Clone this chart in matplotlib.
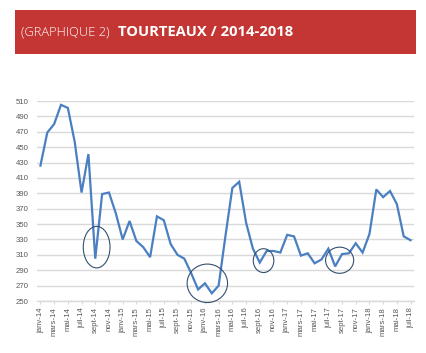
import matplotlib.pyplot as plt
from matplotlib.patches import Ellipse, Rectangle

# monthly price index, janv-14 .. juil-18
prices = [426, 469, 480, 505, 501, 457, 391, 441, 305, 389,
          391, 364, 330, 354, 328, 320, 307, 360, 355, 324,
          310, 305, 286, 265, 273, 260, 270, 335, 397, 405,
          352, 318, 300, 315, 315, 313, 336, 334, 309, 312,
          299, 304, 318, 295, 311, 312, 325, 313, 337, 395,
          385, 393, 376, 334, 329]
tick_labels = ["janv-14", "mars-14", "mai-14", "juil-14", "sept-14", "nov-14",
               "janv-15", "mars-15", "mai-15", "juil-15", "sept-15", "nov-15",
               "janv-16", "mars-16", "mai-16", "juil-16", "sept-16", "nov-16",
               "janv-17", "mars-17", "mai-17", "juil-17", "sept-17", "nov-17",
               "janv-18", "mars-18", "mai-18", "juil-18"]
y_ticks = list(range(250, 511, 20))
# highlighted zones: (centre month index, centre value, width, height)
circles = [(8.2, 320, 3.9, 54), (24.35, 273, 5.9, 50),
           (32.55, 302.5, 3.0, 31), (43.65, 303, 4.1, 34)]

W, H = 426, 353
fig = plt.figure(figsize=(W / 100, H / 100), dpi=100)
fig.patch.set_facecolor("white")

# red banner
fig.patches.append(Rectangle((15 / W, 1 - 53.5 / H), 401 / W, 43 / H,
                             transform=fig.transFigure, facecolor="#C43633",
                             edgecolor="none", zorder=0))
fig.text(21 / W, 1 - 32 / H, "(GRAPHIQUE 2)", color="white", fontsize=9.3,
         family="Open Sans", fontweight="light", va="center", ha="left")
fig.text(118 / W, 1 - 32 / H, "TOURTEAUX / 2014-2018", color="white", fontsize=10.6,
         family="Open Sans", fontweight="bold", va="center", ha="left")

ax = fig.add_axes([37 / W, 1 - 301 / H, 377 / W, 200 / H])
x = list(range(len(prices)))
ax.plot(x, prices, color="#4A7FC1", lw=1.6, solid_joinstyle="miter", zorder=3)

for cx, cy, w, h in circles:
    ax.add_patch(Ellipse((cx, cy), w, h, fill=False, edgecolor="#34506F",
                         lw=0.8, clip_on=False, zorder=4))

ax.set_xlim(-0.5, len(prices) - 0.5)
ax.set_ylim(250, 510)
ax.set_yticks(y_ticks)
ax.set_xticks(range(0, len(prices), 2))
ax.set_xticklabels(tick_labels, rotation=90, fontsize=5.6, color="#595959",
                   family="Liberation Sans")
for lab in ax.get_yticklabels():
    lab.set_fontsize(5.6)
    lab.set_color("#595959")
    lab.set_family("Liberation Sans")

ax.grid(axis="y", color="#D9D9D9", lw=1.0)
ax.set_axisbelow(True)
for s in ("top", "right", "left"):
    ax.spines[s].set_visible(False)
ax.spines["bottom"].set_color("#D9D9D9")
ax.spines["bottom"].set_linewidth(1.0)
ax.tick_params(axis="y", length=0, pad=6)
ax.tick_params(axis="x", length=2.5, color="#D9D9D9", pad=2)

fig.savefig("out.png", dpi=100)
